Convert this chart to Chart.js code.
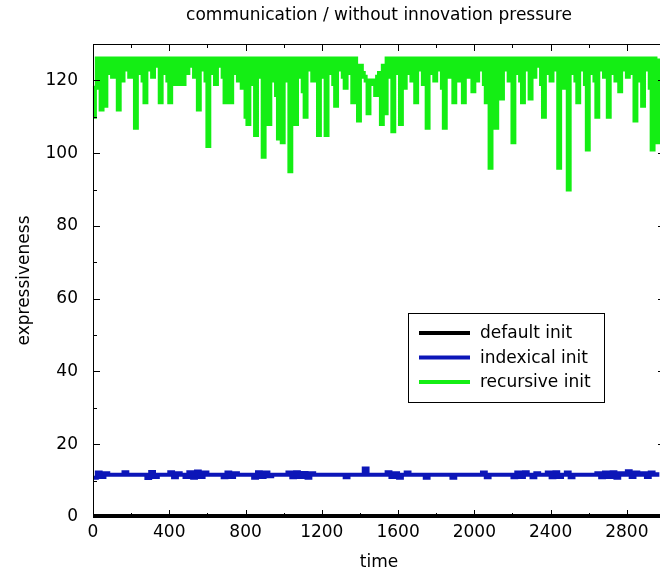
<!DOCTYPE html>
<html lang="en">
<head>
<meta charset="UTF-8">
<title>communication / without innovation pressure</title>
<script src="https://cdn.jsdelivr.net/npm/chart.js"></script>
<style>
  html, body { margin: 0; padding: 0; background: #fff; overflow: hidden; }
  .wrap { position: relative; width: 666px; height: 578px; }
</style>
</head>
<body>
<div class="wrap"><canvas id="chart"></canvas></div>
<script>
// labels / ticks
const chartTitle = 'communication / without innovation pressure';
const seriesNames = ['default init', 'indexical init', 'recursive init'];
const seriesColors = ['#000000', '#0c16b8', '#14ee14'];
const xTicks = [0, 400, 800, 1200, 1600, 2000, 2400, 2800];
const xMinorTicks = [200, 600, 1000, 1400, 1800, 2200, 2600];
const yTicks = [0, 20, 40, 60, 80, 100, 120];
const yMinorTicks = [10, 30, 50, 70, 90, 110];

// default init: flat at the bottom
const defaultTime = [0, 2980];
const defaultValues = [0.3, 0.3];

// indexical init: sampled every 20 time steps
const indexicalStep = 20;
const indexicalValues = [
  10.8,12.2,11.0,12.0,11.6,11.6,11.6,11.6,12.3,11.6,11.6,11.6,11.6,11.6,10.7,12.4,11.0,11.6,11.6,11.6,
  12.3,10.9,12.0,11.6,11.0,12.3,10.8,12.5,11.0,12.2,11.6,11.6,11.6,11.6,10.9,12.2,11.0,12.0,11.6,11.6,
  11.6,11.6,10.8,12.3,11.0,12.2,11.2,11.6,11.6,11.6,11.6,12.2,10.9,12.3,11.0,12.1,10.8,12.0,11.6,11.6,
  11.6,11.6,11.6,11.6,11.6,11.6,10.9,11.6,11.6,11.6,11.6,13.3,11.6,11.6,11.6,11.6,11.6,12.3,11.0,12.0,
  10.8,11.6,12.2,11.6,11.6,11.6,11.6,10.8,11.6,11.6,11.6,11.6,11.6,11.6,10.8,11.6,11.6,11.6,11.6,11.6,
  11.6,11.6,12.2,10.9,11.6,11.6,11.6,11.6,11.6,11.6,10.9,12.2,11.0,12.3,11.6,10.9,12.0,11.6,11.6,12.2,
  10.9,12.3,11.0,11.6,12.2,10.9,11.6,11.6,11.6,11.6,11.6,11.6,12.0,10.9,12.2,11.0,12.3,10.8,12.0,11.6,
  12.6,11.0,12.2,11.6,12.0,11.0,12.2,11.6,12.3
];

// recursive init: sampled every 10 time steps
const recursiveStep = 10;
const recursiveValues = [
  110,118,126,120,112,126,113,126,122,126,121,126,124,112,126,120,126,123,126,121,
  126,124,107,126,122,126,120,114,126,123,126,121,126,124,126,114,126,122,126,120,
  114,126,123,119,126,119,126,119,126,122,126,124,126,121,126,112,126,123,126,120,
  102,126,122,126,119,126,124,126,121,114,126,123,114,126,122,126,120,126,118,126,
  110,108,126,119,126,105,126,121,126,99,126,118,108,126,120,126,116,104,126,103,
  126,120,126,95,126,122,108,126,121,126,117,110,126,123,126,120,126,122,105,126,
  121,126,105,126,122,126,119,113,126,123,126,121,118,126,122,126,114,126,120,109,
  124,122,121,120,111,120,119,120,116,121,122,108,124,111,126,121,126,106,126,122,
  126,108,126,118,126,122,126,120,126,114,126,123,126,119,126,107,126,122,126,120,
  126,123,126,118,107,126,121,126,122,114,126,120,126,123,114,126,121,126,122,117,
  126,120,126,123,126,119,114,126,96,126,118,107,126,121,115,126,123,126,120,126,
  103,126,122,126,120,114,126,123,126,115,126,121,126,124,126,119,110,126,122,126,
  120,126,123,126,96,126,118,126,121,90,126,122,126,120,114,126,123,126,119,101,
  126,122,126,120,110,126,123,126,121,126,110,126,122,126,120,126,117,126,123,126,
  121,126,122,126,109,126,120,126,113,126,123,126,118,101,126,121,103,126
];

const FONT = { family: "'DejaVu Sans', sans-serif", size: 17, weight: 'normal' };

const toPoints = (times, values) => values.map((v, i) => ({ x: times[i], y: v }));
const stepPoints = (step, values) => values.map((v, i) => ({ x: i * step, y: v }));

// gnuplot-like frame with inward ticks on all sides
const framePlugin = {
  id: 'frame',
  afterDatasetsDraw(chart) {
    const { ctx, chartArea: a, scales: { x, y } } = chart;
    ctx.save();
    ctx.strokeStyle = '#000';
    ctx.lineWidth = 1;
    ctx.beginPath();
    const xt = (v, len) => {
      const px = Math.round(x.getPixelForValue(v)) + 0.5;
      ctx.moveTo(px, a.bottom); ctx.lineTo(px, a.bottom - len);
      ctx.moveTo(px, a.top); ctx.lineTo(px, a.top + len);
    };
    const yt = (v, len) => {
      const py = Math.round(y.getPixelForValue(v)) + 0.5;
      ctx.moveTo(a.left, py); ctx.lineTo(a.left + len, py);
      ctx.moveTo(a.right, py); ctx.lineTo(a.right - len, py);
    };
    xTicks.forEach(v => xt(v, 7));
    xMinorTicks.forEach(v => xt(v, 4));
    yTicks.forEach(v => yt(v, 7));
    yMinorTicks.forEach(v => yt(v, 4));
    ctx.stroke();
    ctx.strokeRect(Math.round(a.left) + 0.5, Math.round(a.top) + 0.5,
      Math.round(a.right - a.left), Math.round(a.bottom - a.top));
    ctx.restore();
  }
};

// title over the plot + boxed legend inside the plot
const textPlugin = {
  id: 'texts',
  afterDraw(chart) {
    const { ctx, chartArea: a } = chart;
    ctx.save();
    ctx.font = `${FONT.size}px ${FONT.family}`;
    ctx.fillStyle = '#000';
    ctx.textAlign = 'center';
    ctx.textBaseline = 'middle';
    ctx.fillText(chartTitle, (a.left + a.right) / 2, 16);

    const box = { left: 408, top: 313, width: 196, height: 89 };
    ctx.fillStyle = '#fff';
    ctx.fillRect(box.left, box.top, box.width, box.height);
    ctx.strokeStyle = '#000';
    ctx.lineWidth = 1;
    ctx.strokeRect(box.left + 0.5, box.top + 0.5, box.width, box.height);
    ctx.textAlign = 'left';
    chart.data.datasets.forEach((ds, i) => {
      const yy = box.top + 20 + i * 24.5;
      ctx.strokeStyle = ds.borderColor;
      ctx.lineWidth = 4;
      ctx.beginPath();
      ctx.moveTo(box.left + 11, yy);
      ctx.lineTo(box.left + 62, yy);
      ctx.stroke();
      ctx.fillStyle = '#000';
      ctx.fillText(ds.label, box.left + 72, yy + 1);
    });
    ctx.restore();
  }
};

new Chart(document.getElementById('chart'), {
  type: 'line',
  data: {
    datasets: [
      { label: seriesNames[0], data: toPoints(defaultTime, defaultValues), borderColor: seriesColors[0], borderWidth: 4, clip: 5 },
      { label: seriesNames[1], data: stepPoints(indexicalStep, indexicalValues), borderColor: seriesColors[1], borderWidth: 4, stepped: true, clip: 5 },
      { label: seriesNames[2], data: stepPoints(recursiveStep, recursiveValues), borderColor: seriesColors[2], borderWidth: 4, stepped: true, clip: 5 }
    ]
  },
  options: {
    responsive: true,
    maintainAspectRatio: false,
    animation: false,
    devicePixelRatio: 1,
    parsing: false,
    elements: {
      point: { radius: 0 },
      line: { tension: 0, fill: false, borderJoinStyle: 'miter', borderCapStyle: 'butt' }
    },
    layout: { padding: { top: 44, right: 1, left: 0, bottom: 0 } },
    plugins: {
      legend: { display: false },
      tooltip: { enabled: false },
      title: { display: false }
    },
    scales: {
      x: {
        type: 'linear',
        min: 0,
        max: 3000,
        afterBuildTicks: s => { s.ticks = xTicks.map(v => ({ value: v })); },
        afterFit: s => { s.height = 61; },
        grid: { display: false, drawTicks: false },
        border: { display: false },
        ticks: { color: '#000', font: FONT, padding: 5, maxRotation: 0, autoSkip: false, callback: v => String(v) },
        title: { display: true, text: 'time', color: '#000', font: FONT, padding: { top: 4, bottom: 5 } }
      },
      y: {
        type: 'linear',
        min: 0,
        max: 130,
        afterBuildTicks: s => { s.ticks = yTicks.map(v => ({ value: v })); },
        afterFit: s => { s.width = 93; },
        grid: { display: false, drawTicks: false },
        border: { display: false },
        ticks: { color: '#000', font: FONT, padding: 15, autoSkip: false, callback: v => String(v) },
        title: { display: true, text: 'expressiveness', color: '#000', font: FONT, padding: { top: 14, bottom: 4 } }
      }
    }
  },
  plugins: [framePlugin, textPlugin]
});
</script>
</body>
</html>
